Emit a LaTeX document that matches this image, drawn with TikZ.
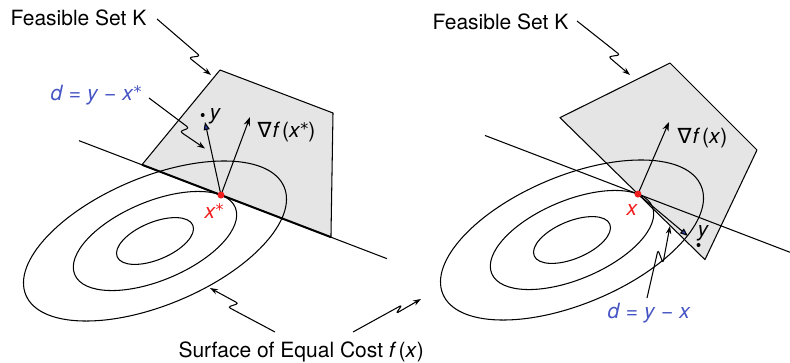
\documentclass[tikz,border=0pt]{standalone}
\usepackage{fontspec}
\setmainfont{TeX Gyre Heros}
\newfontfamily\nablafont{DejaVu Sans}
\usetikzlibrary{arrows.meta,calc}
\definecolor{lblue}{RGB}{70,85,195}
\definecolor{tipblue}{RGB}{45,65,170}
\definecolor{xred}{RGB}{240,30,30}
\definecolor{kgray}{RGB}{229,229,229}
\newcommand{\ststar}{\raisebox{0.12em}{\nablafont\fontsize{16}{16}\selectfont *}}
\begin{document}
\begin{tikzpicture}[x=1pt,y=-1pt, line width=1.05pt, line join=round,
  txt/.style={font=\fontsize{21}{25}\selectfont, inner sep=0pt},
  squig/.style={line width=1.05pt, rounded corners=2.5pt, -{Stealth[length=8pt,width=5.5pt]}},
  grad/.style={-{Stealth[length=9pt,width=6.5pt]}},
  darrow/.style={-{Triangle[length=8pt,width=6pt,fill=tipblue]}},
  kset/.style={fill=kgray, draw=black},
  ptdot/.style={circle, fill=xred, inner sep=0pt, minimum size=7pt},
  ydot/.style={circle, fill=black, inner sep=0pt, minimum size=4pt}]
\useasboundingbox (0,0) rectangle (790,362);

% ---------------- left figure ----------------
\begin{scope}[shift={(155,241)}, rotate=22.7]
  \coordinate (xs) at ({87*cos(25.4)},{-39.5*sin(25.4)});
\end{scope}
\coordinate (LT1) at ($(xs)+(-142,-54.4)$);
\coordinate (LT2) at ($(xs)+(166,63.6)$);
\coordinate (K1) at (220,70);
\coordinate (K2) at (333,113);
\coordinate (K3) at ($(xs)+(110,42.1)$);
\coordinate (K4) at ($(xs)+(-79,-30.3)$);
\fill[kgray] (K1) -- (K2) -- (K3) -- (K4) -- cycle;
\draw (K4) -- (K1) -- (K2) -- (K3);
\begin{scope}[shift={(155,241)}, rotate=22.7]
  \draw (0,0) ellipse [x radius=140, y radius=64];
  \draw (0,0) ellipse [x radius=87, y radius=39.5];
  \draw (0,0) ellipse [x radius=41, y radius=18.7];
\end{scope}
\draw (LT1) -- (LT2);
\draw[line width=2pt] (K4) -- (K3);
\coordinate (ytipL) at (205,122);
\coordinate (gtipL) at (250,117);
\draw[grad] (xs) -- (gtipL);
\draw[darrow] (xs) -- (ytipL);
\node[ydot] (yL) at (202.7,115) {};
\node[ptdot] (xsd) at (xs) {};
\node[txt, anchor=base west, text=xred] (xsl) at (204,218) {\textit{x}\ststar};
\node[txt, anchor=base west] (yLl) at (209,119) {\textit{y}};
\node[txt, anchor=base west] (gL) at (257,137) {{\nablafont ∇}\kern1pt\textit{f}\kern2pt(\textit{x}\ststar)};
\node[txt, anchor=base west, text=lblue] (dL) at (50,100) {\textit{d} = \textit{y} − \textit{x}\ststar};
\node[txt, anchor=base west] (fsL) at (10,25) {Feasible Set K};
\draw[squig] (157,19) -- (200,56) -- (189,57.5) -- (211,75);
\draw[squig] (149,98) -- (189,128) -- (180,131.5) -- (205,148.5);

% ---------------- right figure ----------------
\begin{scope}[shift={(572,240)}, rotate=22.7]
  \coordinate (xr) at ({87*cos(25.4)},{-39.5*sin(25.4)});
\end{scope}
\coordinate (RT1) at ($(xr)+(-153,-58.6)$);
\coordinate (RT2) at ($(xr)+(152,58.2)$);
\coordinate (R1) at (670,63);
\coordinate (R2) at (757,150);
\coordinate (R3) at ($(xr)+(67,65.6)$);
\coordinate (R4) at ($(xr)+(-78,-76.4)$);
\filldraw[kset] (R1) -- (R2) -- (R3) -- (R4) -- cycle;
\begin{scope}[shift={(572,240)}, rotate=22.7]
  \draw (0,0) ellipse [x radius=140, y radius=64];
  \draw (0,0) ellipse [x radius=87, y radius=39.5];
  \draw (0,0) ellipse [x radius=41, y radius=18.7];
\end{scope}
\draw (RT1) -- (RT2);
\coordinate (ytipR) at (688,236);
\coordinate (gtipR) at (669,122);
\draw[grad] (xr) -- (gtipR);
\draw[darrow] (xr) -- (ytipR);
\node[ydot] (yR) at (698.5,245) {};
\node[ptdot] (xrd) at (xr) {};
\node[txt, anchor=base west, text=xred] (xrl) at (626,215) {\textit{x}};
\node[txt, anchor=base west] (yRl) at (697,236) {\textit{y}};
\node[txt, anchor=base west] (gR) at (677,143) {{\nablafont ∇}\kern1pt\textit{f}\kern2pt(\textit{x})};
\node[txt, anchor=base west, text=lblue] (dR) at (607,318) {\textit{d} = \textit{y} − \textit{x}};
\node[txt, anchor=base west] (fsR) at (432,29) {Feasible Set K};
\draw[squig] (577,21) -- (620,55) -- (608.5,56.7) -- (630,75);
\draw[squig] (647,298) -- (658,250) -- (663,263) -- (670,226);

% ---------------- bottom label ----------------
\node[txt, anchor=base west] (surf) at (178,357) {Surface of Equal Cost \textit{f}\kern2pt(\textit{x})};
\draw[squig] (275,332) -- (228,307) -- (238.5,303.5) -- (210,288);
\draw[squig] (353,332) -- (402,305) -- (396,313.5) -- (421,299);
\end{tikzpicture}
\end{document}
